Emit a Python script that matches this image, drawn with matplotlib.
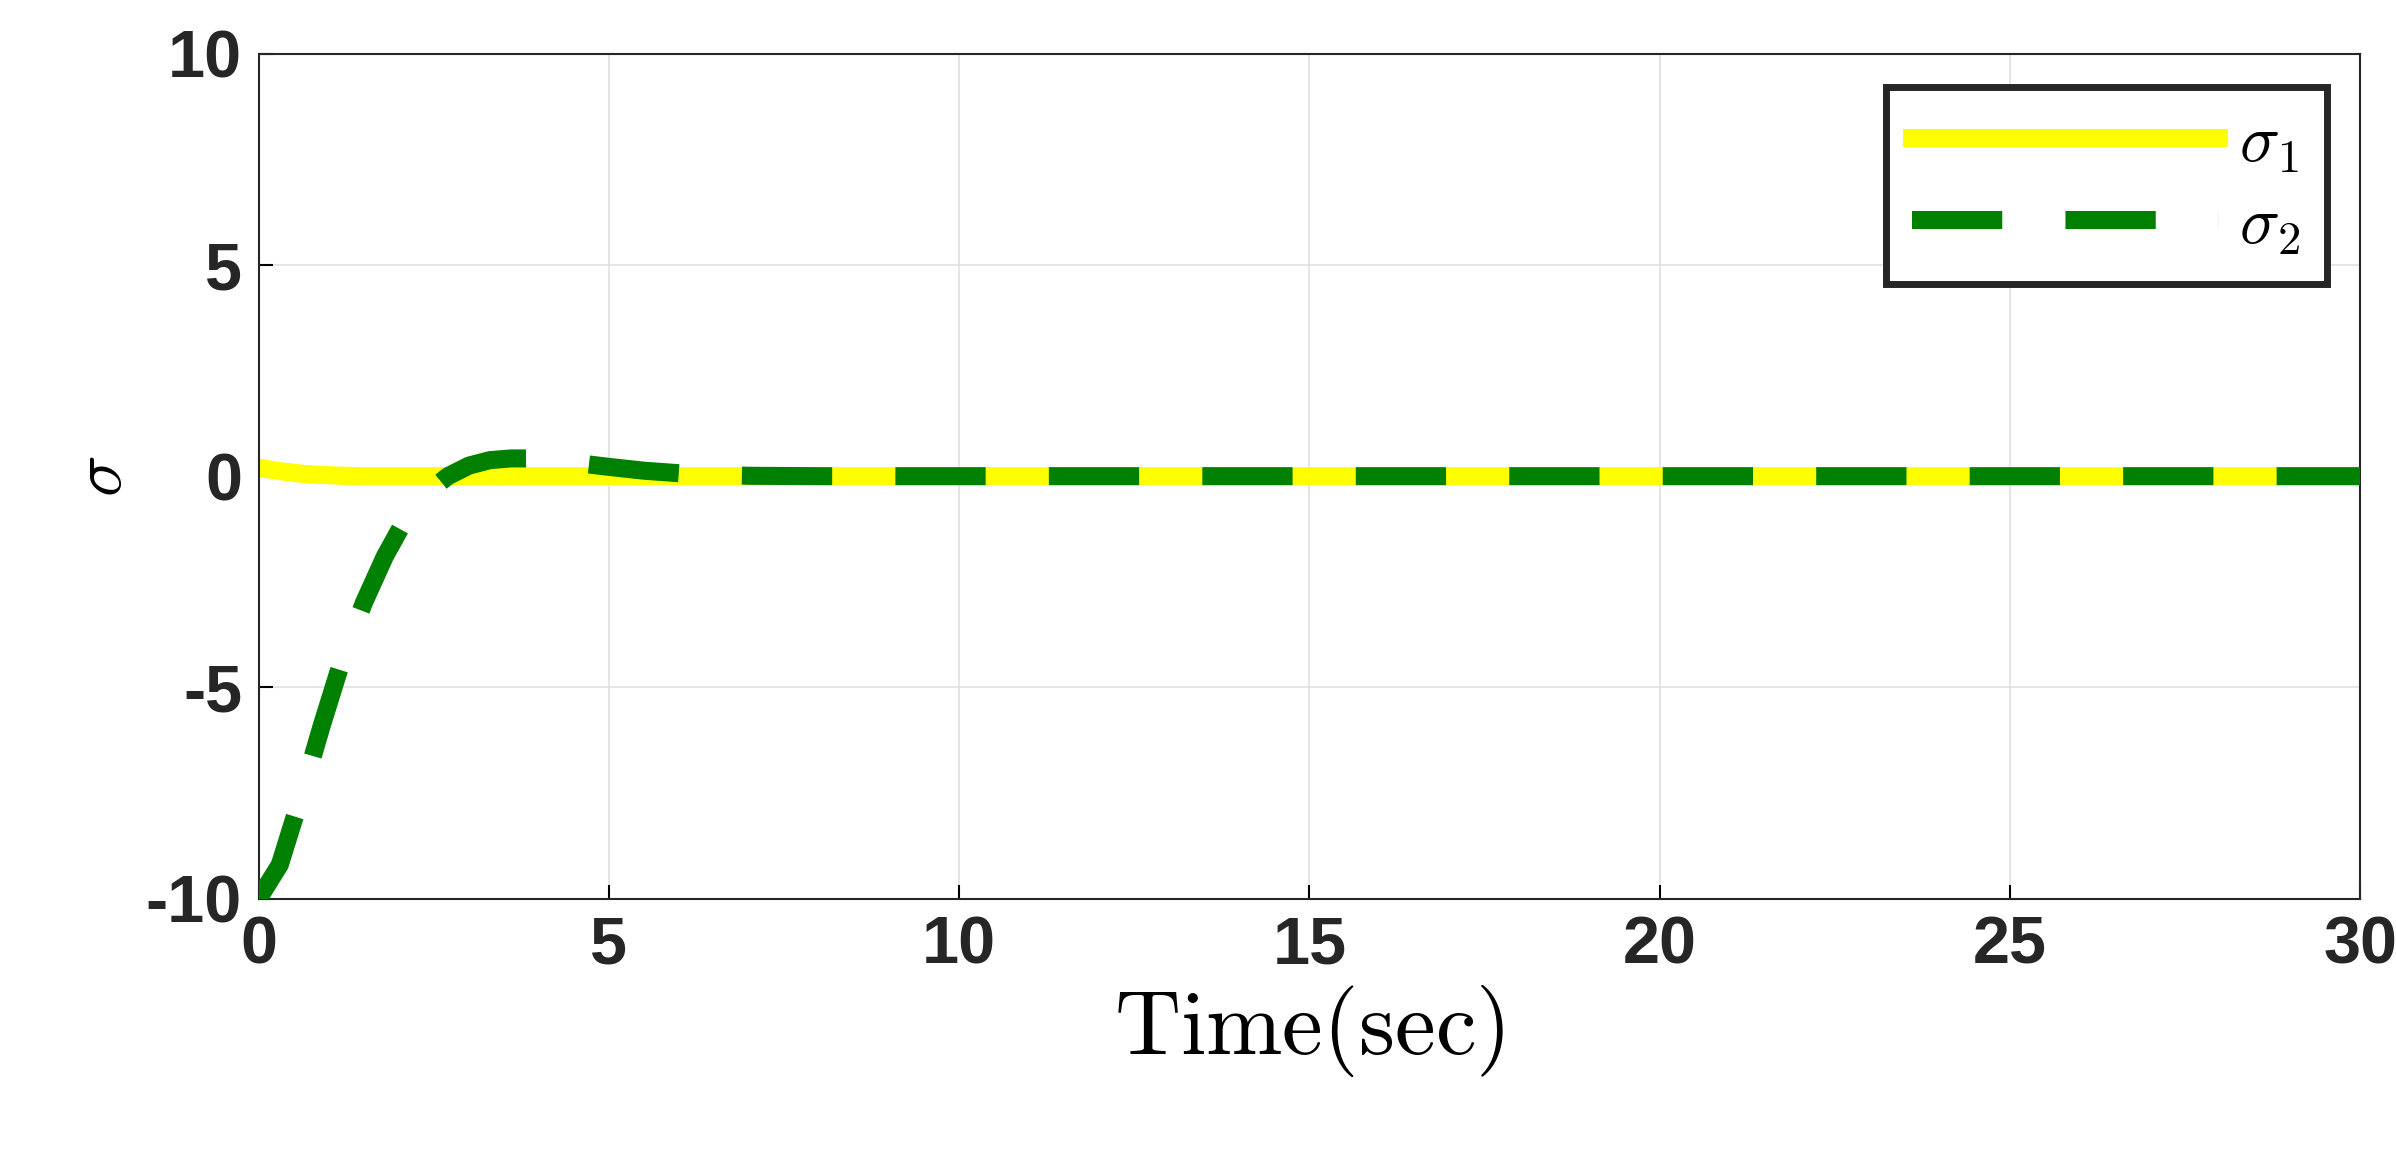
import numpy as np
import matplotlib; matplotlib.use("Agg"); import matplotlib.pyplot as plt

plt.rcParams.update({"mathtext.fontset":"cm", "axes.unicode_minus":False,
                     "font.family":["Liberation Sans", "DejaVu Sans"]})
# values
t = [0, 0.3, 0.6, 0.9, 1.2, 1.5, 1.8, 2.1, 2.4, 2.7, 3.0, 3.3, 3.6, 3.9, 4.2, 4.5, 5.0, 5.5, 6.0, 6.5, 7.0, 8.0, 10, 15, 20, 25, 30]
sigma1 = [0.2, 0.12, 0.06, 0.03, 0.01, 0, 0, 0, 0, 0, 0, 0, 0, 0, 0, 0, 0, 0, 0, 0, 0, 0, 0, 0, 0, 0, 0]
sigma2 = [-10, -9.2, -7.6, -5.9, -4.3, -3.0, -1.9, -1.0, -0.4, 0.0, 0.25, 0.38, 0.42, 0.42, 0.38, 0.32, 0.22, 0.13, 0.07, 0.03, 0.01, 0, 0, 0, 0, 0, 0]

fig = plt.figure(figsize=(23.96, 11.7), dpi=100)
ax = fig.add_axes([0.108, 0.232, 0.877, 0.722])
ax.plot(t, sigma1, color="#ffff00", lw=13, label=r"$\sigma_1$", zorder=2)
ax.plot(t, sigma2, color="#008000", lw=13, ls=(0, (5, 3.5)), label=r"$\sigma_2$", zorder=3)
ax.set_xlim(0, 30); ax.set_ylim(-10, 10)
ax.set_xticks([0, 5, 10, 15, 20, 25, 30]); ax.set_yticks([-10, -5, 0, 5, 10])
ax.grid(True, color="#e0e0e0", lw=1.2)
for s in ax.spines.values(): s.set_color("#262626"); s.set_linewidth(1.5)
ax.tick_params(labelsize=48, direction="in", length=10, width=1.5, pad=12)
for lb in ax.get_xticklabels() + ax.get_yticklabels(): lb.set_fontweight("bold"); lb.set_color("#262626")
ax.set_xlabel(r"$\mathrm{Time(sec)}$", fontsize=66, labelpad=4)
ax.set_ylabel(r"$\sigma$", fontsize=50, labelpad=8)
leg = ax.legend(loc="upper right", fontsize=48, handlelength=4.6, fancybox=False, framealpha=1,
                borderaxespad=0.5, labelspacing=0.3, handletextpad=0.3)
leg.get_frame().set_edgecolor("#262626"); leg.get_frame().set_linewidth(5)
fig.savefig("out.png")
